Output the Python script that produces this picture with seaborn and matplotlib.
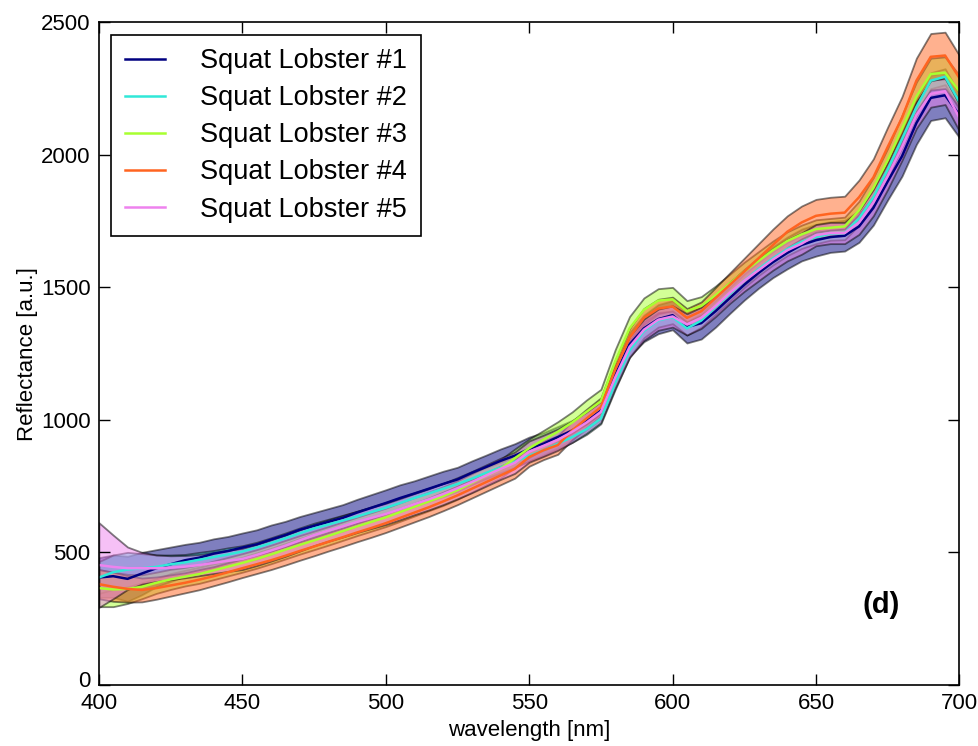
import numpy as np
import pandas as pd
import matplotlib
matplotlib.use('Agg')
import matplotlib.pyplot as plt
import matplotlib.transforms as mtransforms
import seaborn as sns

plt.rcParams['font.family'] = ['Liberation Sans', 'DejaVu Sans']
plt.rcParams['xtick.direction'] = 'in'
plt.rcParams['ytick.direction'] = 'in'
plt.rcParams['xtick.top'] = True
plt.rcParams['ytick.right'] = True

# --- data: mean spectra (400-700 nm, 5 nm steps) and spread ---
wavelength = list(range(400, 701, 5))

labels = ['Squat Lobster #1', 'Squat Lobster #2', 'Squat Lobster #3',
          'Squat Lobster #4', 'Squat Lobster #5']
colors = ['#000080', '#30e8d8', '#a8ff30', '#ff6420', '#ee82ee']

lobster1 = [405, 410, 400, 420, 440, 455, 470, 480, 495, 505,
            518, 530, 548, 565, 585, 600, 615, 630, 650, 668,
            686, 705, 722, 740, 758, 775, 800, 822, 845, 865,
            890, 910, 935, 960, 995, 1035, 1170, 1285, 1345, 1380,
            1395, 1350, 1365, 1410, 1460, 1510, 1555, 1595, 1630, 1660,
            1678, 1690, 1695, 1730, 1800, 1900, 1995, 2120, 2215, 2225,
            2150]
lobster2 = [405, 425, 435, 440, 445, 455, 462, 472, 482, 492,
            503, 518, 535, 553, 572, 590, 605, 620, 635, 652,
            668, 686, 705, 722, 740, 758, 778, 800, 820, 842,
            865, 885, 910, 935, 965, 1005, 1140, 1262, 1335, 1375,
            1388, 1345, 1375, 1425, 1475, 1525, 1570, 1610, 1645, 1672,
            1690, 1703, 1705, 1760, 1840, 1945, 2060, 2180, 2280, 2295,
            2200]
lobster3 = [365, 360, 362, 370, 385, 398, 408, 418, 432, 446,
            460, 475, 492, 510, 528, 545, 562, 580, 598, 615,
            632, 652, 672, 692, 712, 735, 762, 790, 815, 855,
            893, 925, 955, 990, 1030, 1070, 1220, 1345, 1415, 1450,
            1455, 1410, 1430, 1470, 1515, 1560, 1600, 1640, 1675, 1700,
            1720, 1725, 1730, 1790, 1875, 1980, 2100, 2220, 2305, 2310,
            2240]
lobster4 = [380, 370, 362, 358, 365, 375, 385, 397, 410, 425,
            440, 455, 470, 487, 505, 522, 540, 557, 575, 592,
            610, 630, 650, 670, 692, 715, 740, 765, 790, 815,
            860, 885, 905, 960, 1005, 1048, 1190, 1310, 1385, 1420,
            1428, 1385, 1410, 1460, 1510, 1560, 1610, 1660, 1710, 1745,
            1770, 1778, 1782, 1840, 1915, 2030, 2140, 2280, 2370, 2375,
            2290]
lobster5 = [452, 445, 440, 440, 440, 442, 446, 452, 460, 468,
            475, 490, 507, 525, 545, 565, 582, 598, 615, 630,
            645, 663, 682, 700, 720, 742, 765, 790, 815, 838,
            880, 902, 925, 955, 990, 1030, 1160, 1275, 1340, 1378,
            1390, 1360, 1385, 1430, 1480, 1525, 1565, 1605, 1640, 1665,
            1697, 1705, 1705, 1745, 1820, 1920, 2030, 2150, 2230, 2240,
            2140]

spread1 = [75, 80, 85, 80, 70, 65, 60, 58, 56, 55,
           55, 55, 55, 52, 50, 50, 50, 50, 50, 50,
           50, 50, 48, 48, 48, 46, 45, 45, 45, 45,
           45, 42, 40, 38, 35, 35, 40, 45, 50, 55,
           55, 60, 60, 60, 58, 58, 58, 58, 60, 60,
           60, 58, 58, 60, 65, 70, 75, 80, 85, 85,
           85]
spread2 = [60, 65, 65, 55, 45, 35, 30, 28, 25, 25,
           22, 20, 20, 20, 20, 20, 20, 20, 20, 20,
           20, 20, 20, 20, 20, 20, 20, 20, 20, 20,
           20, 20, 20, 20, 20, 20, 25, 25, 25, 25,
           25, 25, 25, 25, 25, 25, 25, 25, 25, 25,
           25, 25, 25, 25, 30, 30, 30, 30, 30, 30,
           30]
spread3 = [70, 65, 55, 45, 40, 38, 35, 35, 35, 35,
           35, 35, 35, 35, 35, 35, 35, 35, 35, 35,
           35, 35, 35, 35, 35, 35, 35, 35, 35, 35,
           35, 35, 38, 40, 45, 45, 45, 45, 45, 45,
           45, 40, 35, 35, 35, 35, 35, 35, 35, 35,
           35, 35, 35, 35, 40, 45, 50, 55, 60, 60,
           60]
spread4 = [55, 55, 50, 45, 42, 40, 38, 38, 36, 36,
           35, 35, 35, 35, 35, 35, 35, 35, 35, 35,
           35, 35, 35, 35, 35, 35, 35, 35, 35, 35,
           35, 35, 35, 35, 35, 35, 35, 35, 35, 35,
           35, 35, 35, 40, 45, 50, 55, 60, 60, 62,
           62, 62, 62, 65, 70, 75, 80, 85, 88, 88,
           85]
spread5 = [160, 120, 80, 60, 50, 45, 42, 40, 40, 40,
           40, 40, 40, 40, 40, 40, 40, 40, 40, 40,
           40, 40, 40, 40, 40, 40, 40, 40, 40, 40,
           40, 40, 40, 40, 40, 40, 40, 40, 40, 40,
           40, 40, 40, 40, 40, 40, 40, 40, 40, 40,
           40, 40, 40, 45, 50, 50, 50, 50, 50, 50,
           50]

means = [lobster1, lobster2, lobster3, lobster4, lobster5]
spreads = [spread1, spread2, spread3, spread4, spread5]

df = pd.concat([
    pd.DataFrame({'wavelength': wavelength, 'reflectance': m, 'sample': lab})
    for m, lab in zip(means, labels)
], ignore_index=True)

# --- plot ---
fig, ax = plt.subplots(figsize=(9.79, 7.46), dpi=100)
fig.subplots_adjust(left=0.101, right=0.980, bottom=0.082, top=0.970)

wl = np.array(wavelength)
for m, s, c in zip(means, spreads, colors):
    m = np.array(m)
    s = np.array(s)
    ax.fill_between(wl, m - s, m + s, facecolor=c, edgecolor='k',
                    linewidth=1.3, alpha=0.5)

sns.lineplot(data=df, x='wavelength', y='reflectance', hue='sample',
             palette=dict(zip(labels, colors)), linewidth=1.8, ax=ax)

ax.set_xlim(400, 700)
ax.set_ylim(0, 2500)
ax.set_xticks(range(400, 701, 50))
ax.set_yticks(range(0, 2501, 500))
ax.tick_params(labelsize=16, length=8, width=1)
ax.tick_params(axis='x', pad=6)
ax.tick_params(axis='y', pad=6)
ax.set_xlabel('wavelength [nm]', fontsize=16, labelpad=4)
ax.set_ylabel('Reflectance [a.u.]', fontsize=16, labelpad=2)
for sp in ax.spines.values():
    sp.set_linewidth(1.2)

# nudge the "0" label up a little so it clears the "400" label
zero_lab = ax.get_yticklabels()[0]
zero_lab.set_transform(zero_lab.get_transform() +
                       mtransforms.ScaledTranslation(0, 4 / 72, fig.dpi_scale_trans))

leg = ax.legend(loc='upper left', fontsize=19.5, frameon=True, fancybox=False,
                handlelength=1.5, handletextpad=1.3, labelspacing=0.41,
                borderaxespad=0.45, borderpad=0.5)
leg.get_frame().set_edgecolor('black')
leg.get_frame().set_linewidth(1.2)
leg.get_frame().set_alpha(1)
for line in leg.get_lines():
    line.set_linewidth(1.8)

ax.text(0.887, 0.12, '(d)', transform=ax.transAxes, fontsize=21,
        fontweight='bold', ha='left', va='center')

fig.savefig('out.png', dpi=100)
